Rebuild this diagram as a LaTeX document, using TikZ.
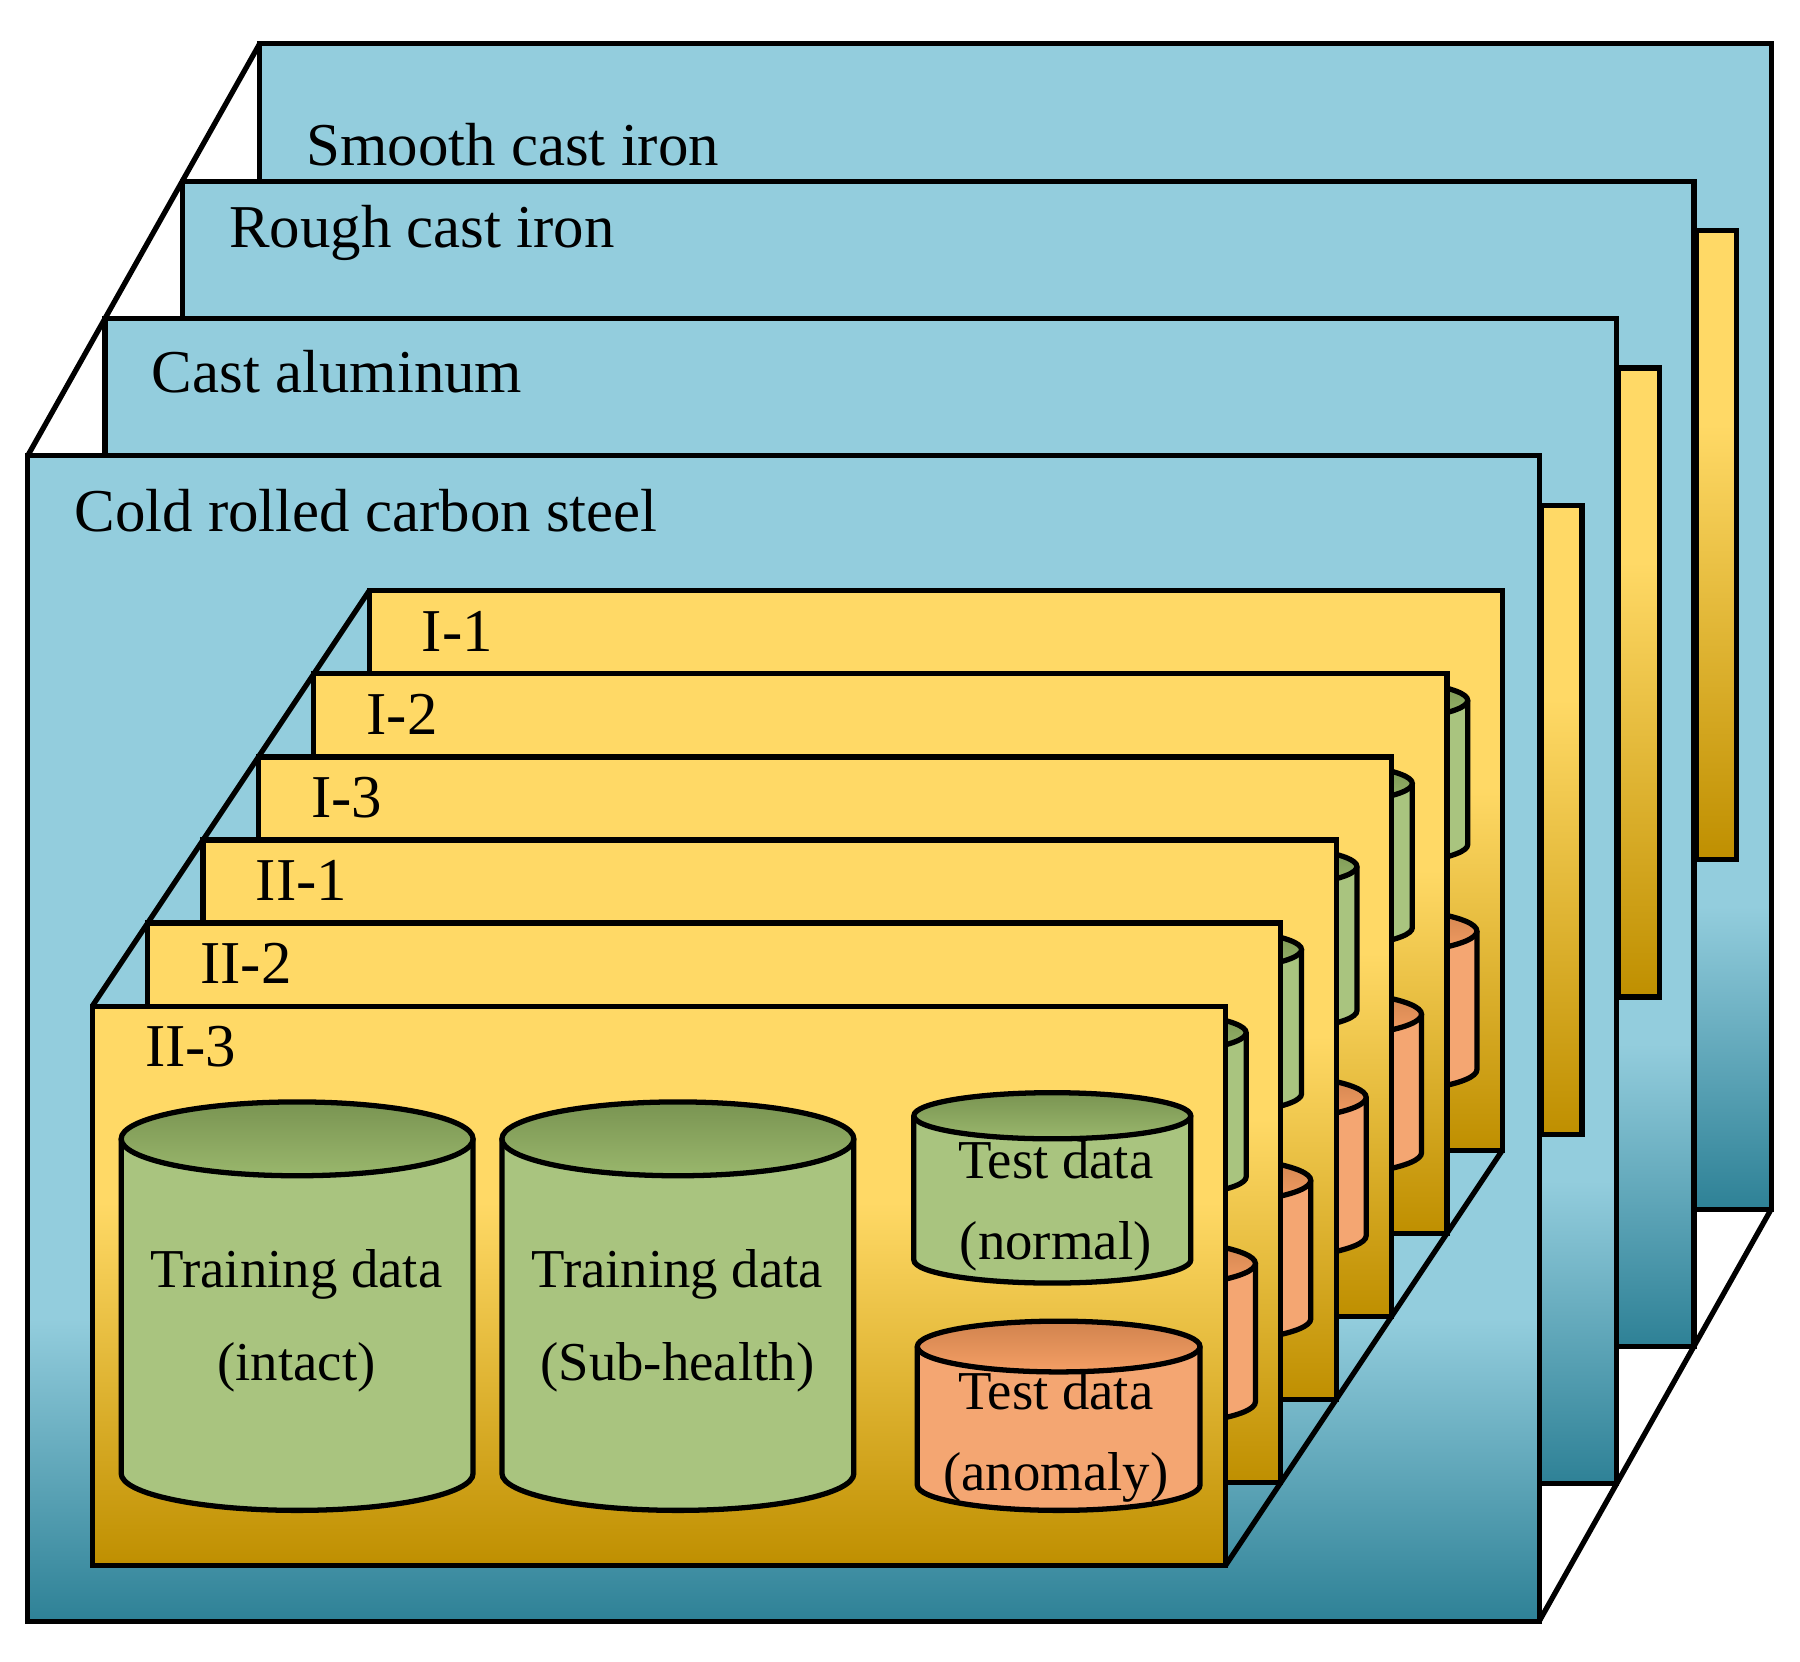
\documentclass[tikz,border=0pt]{standalone}
\usepackage{fontspec}
\setmainfont{Liberation Serif}
\definecolor{pblue}{HTML}{93CDDD}
\definecolor{pteal}{HTML}{2E8196}
\definecolor{cyel}{HTML}{FFD966}
\definecolor{cgold}{HTML}{BF8F00}
\definecolor{cgreen}{HTML}{A9C47F}
\definecolor{cgreentop}{HTML}{8FAE60}
\definecolor{corange}{HTML}{F4A672}
\definecolor{corangetop}{HTML}{F59A5C}
\tikzset{
  edge/.style={black,line width=1.3pt},
  lbl/.style={anchor=west,font=\fontsize{15}{17}\selectfont,inner sep=0pt},
  ctext/.style={align=center,font=\fontsize{13.5}{23}\selectfont,inner sep=0pt},
}
\newcommand{\cyl}[6]{% x1 x2 ytop ybot ry color
  \pgfmathsetmacro{\cx}{(#1+#2)/2}\pgfmathsetmacro{\rx}{(#2-#1)/2}
  \fill[#6] (#1,#3) -- (#1,#4) arc[start angle=180,end angle=0,x radius=\rx,y radius=#5] -- (#2,#3) -- cycle;
  \draw[edge] (#1,#3) -- (#1,#4) arc[start angle=180,end angle=0,x radius=\rx,y radius=#5] -- (#2,#3);
  \shade[top color=#6top!85!black,bottom color=#6top!60!#6,draw=black,line width=1.3pt] (\cx,#3) ellipse[x radius=\rx,y radius=#5];
}
\begin{document}
\begin{tikzpicture}[x=0.01cm,y=-0.01cm]
\useasboundingbox (0,0) rectangle (1560,1440);
\draw[edge] (225,38) -- (24,395);
\draw[edge] (1535,38) -- (1334,395);
\draw[edge] (1535,1048) -- (1334,1405);
\foreach \k/\lab/\ly in {3/Smooth cast iron/87,2/Rough cast iron/45,1/Cast aluminum/46,0/Cold rolled carbon steel/48}{
  \pgfmathsetmacro{\xa}{24+67*\k}\pgfmathsetmacro{\ya}{395-119*\k}
  \pgfmathsetmacro{\xb}{\xa+1310}\pgfmathsetmacro{\yb}{\ya+1010}
  \pgfmathsetmacro{\ym}{\ya+0.74*1010}
  \fill[pblue] (\xa,\ya) rectangle (\xb,\yb);
  \shade[top color=pblue,bottom color=pteal] (\xa,\ym) rectangle (\xb,\yb);
  \draw[edge] (\xa,\ya) rectangle (\xb,\yb);
  \node[lbl] (P\k) at (\xa+40,\ya+\ly) {\lab};
  \ifnum\k>0
    \pgfmathsetmacro{\sa}{\ya+162}\pgfmathsetmacro{\sb}{\ya+707}\pgfmathsetmacro{\sm}{\ya+330}
    \fill[cyel] (\xb-65,\sa) rectangle (\xb-30,\sb);
    \shade[top color=cyel,bottom color=cgold] (\xb-65,\sm) rectangle (\xb-30,\sb);
    \draw[edge] (\xb-65,\sa) rectangle (\xb-30,\sb);
  \fi
}
\draw[edge] (320,512) -- (80,872);
\draw[edge] (1302,512) -- (1062,872);
\draw[edge] (1302,997) -- (1062,1357);
\foreach \k/\lab in {5/I-1,4/I-2,3/I-3,2/II-1,1/II-2,0/II-3}{
  \begin{scope}[shift={(80+48*\k,872-72*\k)}]
    \fill[cyel] (0,0) rectangle (982,485);
    \shade[top color=cyel,bottom color=cgold] (0,170) rectangle (982,485);
    \draw[edge] (0,0) rectangle (982,485);
    \node[lbl] (C\k) at (45,35) {\lab};
    \cyl{25}{330}{115}{405}{32}{cgreen}
    \cyl{355}{660}{115}{405}{32}{cgreen}
    \cyl{712}{952}{95}{220}{20}{cgreen}
    \cyl{715}{960}{295}{415}{22}{corange}
  \end{scope}
}
\node[ctext] (t1) at (257,1145) {Training data\\(intact)};
\node[ctext] (t2) at (587,1145) {Training data\\(Sub-health)};
\node[ctext,font=\fontsize{13.5}{20}\selectfont] (t3) at (915,1045) {Test data\\(normal)};
\node[ctext,font=\fontsize{13.5}{20}\selectfont] (t4) at (915,1245) {Test data\\(anomaly)};
\end{tikzpicture}
\end{document}
